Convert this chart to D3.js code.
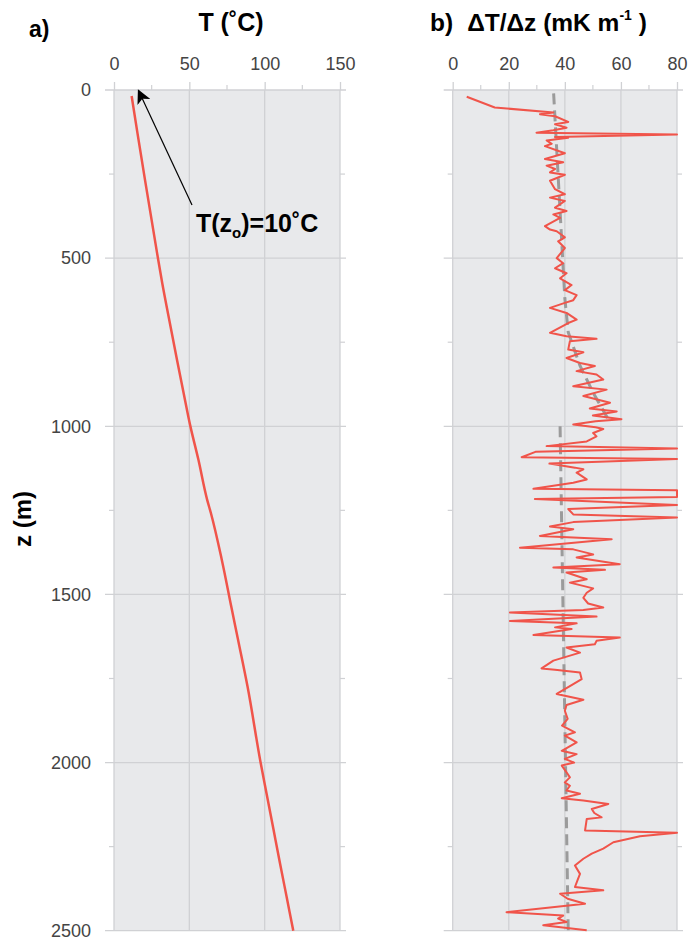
<!DOCTYPE html>
<html><head><meta charset="utf-8">
<script src="https://cdn.jsdelivr.net/npm/d3@7"></script>
<style>
body{margin:0;background:#fff;}
svg{display:block;font-family:"Liberation Sans",Arial,Helvetica,sans-serif;}
</style></head>
<body>
<svg id="c" width="690" height="945"></svg>
<script>
// ---------- data ----------
const tempTicks = [0, 50, 100, 150];
const gradTicks = [0, 20, 40, 60, 80];
const depthTicks = [0, 500, 1000, 1500, 2000, 2500];

const tempZ = [18, 129, 268, 485, 574, 673, 802, 901, 998, 1099, 1218, 1258, 1396, 1540, 1634, 1773, 2000, 2100, 2200, 2300, 2400, 2500];
const tempT = [11.7, 15.6, 20.6, 28.6, 32, 36.2, 41.8, 46.2, 50.6, 56, 61.8, 64.3, 71.5, 78, 82.3, 88.6, 97.3, 101.6, 105.9, 110.2, 114.6, 119];

const gradZ = [20, 52, 67, 72, 78, 95, 102, 112, 120, 127, 132, 140, 142, 150, 160, 167, 188, 205, 215, 225, 235, 245, 252, 270, 295, 310, 320, 330, 350, 360, 370, 380, 405, 415, 420, 438, 450, 470, 500, 515, 530, 545, 560, 580, 595, 610, 625,
  633, 648, 663, 683, 693, 722, 732, 740, 747, 772, 780, 797, 812, 821, 836, 846, 861, 881, 891, 910, 930, 947, 956, 968, 979, 985, 995, 1003, 1008, 1020, 1030, 1045,
  1059, 1066, 1076, 1092, 1097, 1111, 1123, 1128, 1138, 1158, 1168, 1186, 1190, 1210, 1216, 1234, 1246, 1262, 1271, 1285, 1298, 1306, 1326, 1336, 1361, 1366, 1381, 1390, 1410, 1420, 1427, 1435, 1455, 1465, 1482, 1495, 1510, 1527, 1539, 1546,
  1554, 1566, 1579, 1586, 1598, 1603, 1621, 1628, 1638, 1648, 1658, 1673, 1697, 1720, 1724, 1732, 1752, 1767, 1796, 1813, 1829, 1846, 1870, 1890, 1910, 1920, 1940, 1965, 1975, 1989, 2000, 2009, 2029, 2044,
  2059, 2069, 2083, 2093, 2106, 2113, 2123, 2138, 2150, 2163, 2168, 2202, 2209, 2219, 2237, 2256, 2271, 2286, 2306, 2331, 2350, 2370, 2380, 2390, 2405, 2420, 2445, 2455, 2464, 2474, 2484, 2499];
const gradV = [5, 15, 35.9, 31.1, 36.5, 41.2, 36.5, 40.6, 35.9, 29.9, 80, 36.5, 41.2, 33.5, 35.3, 32.9, 40, 32.9, 39.4, 33.5, 36.5, 34.7, 40, 34.7, 36.5, 40, 34.7, 40, 36.5, 40.6, 35.9, 38.3, 32.9, 34.7, 37.1, 40, 37.6, 40, 37.1, 39.4, 36.5, 40.6, 38.3, 42.4, 40, 44.2, 43,
  40, 34.7, 40.6, 44.2, 41.2, 34.7, 40.6, 51.3, 41.8, 41.2, 46.6, 40.6, 45.4, 50.7, 44.2, 51.3, 53.7, 43, 54.9, 46.6, 56.1, 48.9, 58.5, 50, 60.2, 51, 43, 51, 53.7, 50.1, 51.3, 47.8,
  33.5, 80, 29.5, 24.6, 80, 34.5, 43.6, 46.6, 44.2, 47.8, 43, 28.8, 80, 80, 29.3, 80, 41.2, 43, 80, 43, 34.7, 43, 31.1, 56.7, 24, 43, 50.1, 44.2, 59.6, 35.9, 54.3, 40.6, 47.8, 41.8, 50.1, 47.8, 46.6, 48.3, 53.7, 46.6,
  20.4, 51.3, 20.4, 44.2, 36.5, 42.4, 28.8, 59.6, 51.3, 50.7, 40.6, 45.4, 35.9, 31.7, 36.5, 45.4, 46, 43, 37.1, 46.6, 40.6, 40, 41, 39, 43.6, 40, 44.2, 38.9, 44.2, 40, 43.3, 38.9, 40.6, 41.8,
  40, 41.8, 40.6, 45.4, 38.9, 46.6, 55.5, 49.6, 50.5, 53.1, 47.8, 47.2, 80, 66.8, 57.3, 53.7, 49.6, 46.6, 43.6, 45.4, 44.5, 43.6, 53.7, 38.3, 41, 47.2, 19.2, 39.4, 37.6, 40.6, 32.3, 47.8];

const trendUpperZ = [10, 620, 720, 820, 900, 980];
const trendUpperV = [36, 40, 41.2, 45.4, 50.1, 55.5];
const trendLowerZ = [1000, 2500];
const trendLowerV = [38.3, 41.2];

// ---------- layout ----------
const svg = d3.select("#c");
const yTop = 90, yBot = 930.7;
const y = d3.scaleLinear().domain([0, 2500]).range([yTop, yBot]);
const xA = d3.scaleLinear().domain([0, 150]).range([114, 340]);
const xB = d3.scaleLinear().domain([0, 80]).range([452.7, 677]);

const bg = "#e8e9eb", grid = "#d0d1d4", red = "#f0544a";
const minorZ = [250, 750, 1250, 1750, 2250];

function panel(x, ticks, minorX, showLeftLabels) {
  const [x0, x1] = x.range();
  const g = svg.append("g");
  g.append("rect").attr("x", x0).attr("y", yTop).attr("width", x1 - x0).attr("height", yBot - yTop).attr("fill", bg);
  g.selectAll(".vg").data(ticks).join("line")
    .attr("x1", d => x(d)).attr("x2", d => x(d)).attr("y1", yTop).attr("y2", yBot)
    .attr("stroke", grid).attr("stroke-width", 1.3);
  g.selectAll(".hg").data(depthTicks).join("line")
    .attr("x1", x0 - 9).attr("x2", x1 + 6).attr("y1", d => y(d)).attr("y2", d => y(d))
    .attr("stroke", grid).attr("stroke-width", 1.3);
  g.selectAll(".mzl").data(minorZ).join("line")
    .attr("x1", x0 - 5).attr("x2", x0).attr("y1", d => y(d)).attr("y2", d => y(d))
    .attr("stroke", grid).attr("stroke-width", 1.2);
  g.selectAll(".mzr").data(minorZ).join("line")
    .attr("x1", x1).attr("x2", x1 + 5).attr("y1", d => y(d)).attr("y2", d => y(d))
    .attr("stroke", grid).attr("stroke-width", 1.2);
  const ax = g.append("g").attr("transform", `translate(0,${yTop})`)
    .call(d3.axisTop(x).tickValues(ticks).tickSize(8).tickPadding(12).tickFormat(d3.format("d")));
  ax.select(".domain").remove();
  ax.selectAll(".tick line").attr("stroke", grid).attr("stroke-width", 1.3);
  ax.selectAll("text").attr("fill", "#444").attr("font-size", 18).attr("font-family", "Liberation Sans, Arial, sans-serif");
  g.selectAll(".mx").data(minorX).join("line")
    .attr("x1", d => x(d)).attr("x2", d => x(d)).attr("y1", yTop - 5).attr("y2", yTop)
    .attr("stroke", grid).attr("stroke-width", 1.2);
  if (showLeftLabels) {
    const ay = g.append("g").attr("transform", `translate(${x0},0)`)
      .call(d3.axisLeft(y).tickValues(depthTicks).tickSize(0).tickPadding(23).tickFormat(d3.format("d")));
    ay.select(".domain").remove();
    ay.selectAll("text").attr("fill", "#444").attr("font-size", 18).attr("font-family", "Liberation Sans, Arial, sans-serif");
  }
  return g;
}

panel(xA, tempTicks, [25, 75, 125], true);
panel(xB, gradTicks, [10, 30, 50, 70], false);

const lineA = d3.line().x(i => xA(tempT[i])).y(i => y(tempZ[i])).curve(d3.curveMonotoneY);
svg.append("path").attr("d", lineA(d3.range(tempZ.length)))
  .attr("fill", "none").attr("stroke", red).attr("stroke-width", 2.5);

const lineTU = d3.line().x(i => xB(trendUpperV[i])).y(i => y(trendUpperZ[i]));
const lineTL = d3.line().x(i => xB(trendLowerV[i])).y(i => y(trendLowerZ[i]));
svg.append("path").attr("d", lineTU(d3.range(trendUpperZ.length)))
  .attr("fill", "none").attr("stroke", "#9b9b9b").attr("stroke-width", 3).attr("stroke-dasharray", "11,6");
svg.append("path").attr("d", lineTL(d3.range(trendLowerZ.length)))
  .attr("fill", "none").attr("stroke", "#9b9b9b").attr("stroke-width", 3).attr("stroke-dasharray", "11,6");

const lineB = d3.line().x(i => xB(gradV[i])).y(i => y(gradZ[i]));
svg.append("path").attr("d", lineB(d3.range(gradZ.length)))
  .attr("fill", "none").attr("stroke", red).attr("stroke-width", 2).attr("stroke-linejoin", "round");

// ---------- texts ----------
const bold = sel => sel.attr("font-weight", "bold").attr("fill", "#000").attr("font-family", "Liberation Sans, Arial, sans-serif");
svg.append("text").attr("x", 29).attr("y", 37).attr("font-size", 23).text("a)").call(bold);
svg.append("text").attr("x", 231).attr("y", 31).attr("font-size", 25).attr("text-anchor", "middle").text("T (˚C)").call(bold);

const tb = svg.append("text").attr("x", 430).attr("y", 31).attr("font-size", 24.5).call(bold);
tb.append("tspan").text("b)");
tb.append("tspan").attr("dx", 14).text("ΔT/Δz (mK m");
tb.append("tspan").attr("font-size", 14).attr("dy", -11).text("-1");
tb.append("tspan").attr("dy", 11).text(" )");

svg.append("text").attr("transform", "translate(31,519) rotate(-90)").attr("text-anchor", "middle")
  .attr("font-size", 24).text("z (m)").call(bold);

const defs = svg.append("defs");
defs.append("marker").attr("id", "ah").attr("viewBox", "0 0 10 10").attr("refX", 9).attr("refY", 5)
  .attr("markerWidth", 14).attr("markerHeight", 14).attr("markerUnits", "userSpaceOnUse").attr("orient", "auto")
  .append("path").attr("d", "M0,0 L10,5 L0,10 L2.5,5 Z").attr("fill", "#000");
svg.append("line").attr("x1", 192).attr("y1", 205).attr("x2", 138.5).attr("y2", 90.5)
  .attr("stroke", "#000").attr("stroke-width", 1.2).attr("marker-end", "url(#ah)");
const ta = svg.append("text").attr("x", 196).attr("y", 232).attr("font-size", 25).call(bold);
ta.append("tspan").text("T(z");
ta.append("tspan").attr("font-size", 15).attr("dy", 6).text("o");
ta.append("tspan").attr("dy", -6).text(")=10˚C");
</script>
</body></html>
